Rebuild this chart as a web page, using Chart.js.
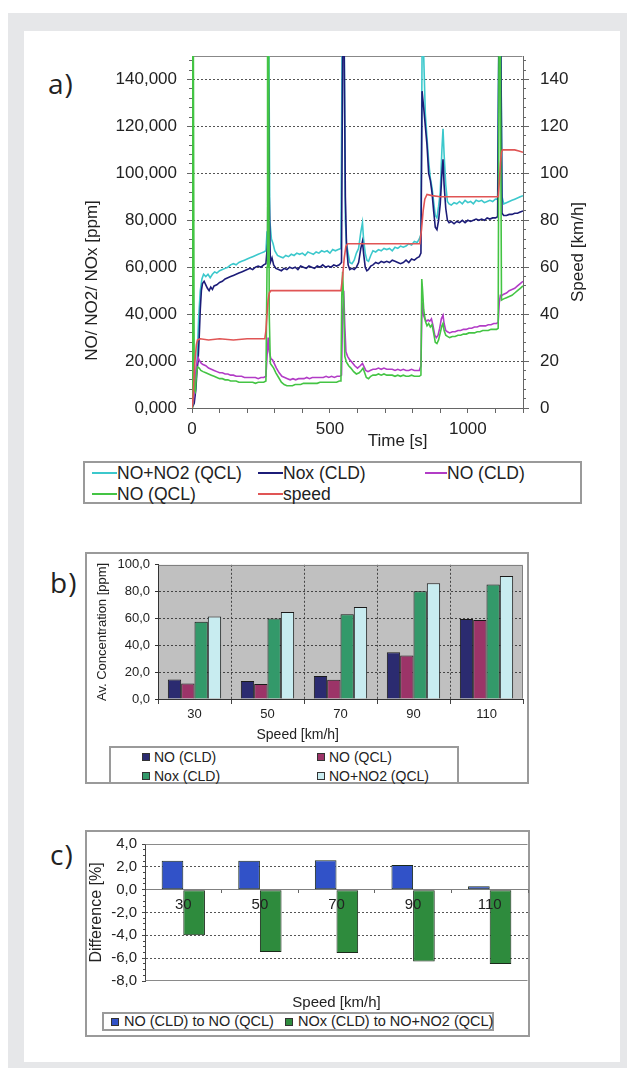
<!DOCTYPE html>
<html><head><meta charset="utf-8">
<script src="https://cdn.jsdelivr.net/npm/chart.js@4.4.1/dist/chart.umd.min.js"></script>
<style>
html,body{margin:0;padding:0;background:#fff;width:627px;height:1068px;overflow:hidden;font-family:'Liberation Sans',Arial,sans-serif;color:#222}
#frame{position:absolute;left:8px;top:13px;width:619px;height:1055px;background:#e6e7e9}
#panel{position:absolute;left:24px;top:31px;width:596px;height:1031px;background:#fff}
.plabel{position:absolute;font-family:'Open Sans',sans-serif;font-size:28px;line-height:28px;letter-spacing:1px;color:#222}
canvas{position:absolute}
.box{position:absolute;box-sizing:border-box;border:2px solid #9a9a9a}
.lgt{position:absolute;white-space:nowrap;color:#222}
.lgl{position:absolute;height:2px}
.lgs{position:absolute;box-sizing:border-box;border:1px solid #333}
</style></head><body>
<div id="frame"></div><div id="panel"></div>
<div class="plabel" style="left:48px;top:69px">a)</div>
<div class="plabel" style="left:50px;top:568px">b)</div>
<div class="plabel" style="left:50px;top:840px">c)</div>
<div class="box" style="left:83px;top:461px;width:499px;height:43px"></div>
<div class="box" style="left:85px;top:552px;width:444px;height:232px"></div>
<div class="box" style="left:109px;top:746px;width:350px;height:38px"></div>
<div class="box" style="left:85px;top:830px;width:445px;height:207px"></div>
<div class="box" style="left:102px;top:1012px;width:392px;height:19px"></div>
<canvas id="ca" width="581" height="422" style="left:24px;top:31px"></canvas>
<canvas id="cb" width="444" height="193" style="left:85px;top:552px"></canvas>
<canvas id="cc" width="444" height="182" style="left:85px;top:830px"></canvas>
<div id="legends"></div>
<script>
// ---------------- DATA: chart a (time [s], value) ----------------
const noNo2QCL = [[0,2],[5,5],[12,12],[18,20],[24,38],[30,50],[36,55],[42,57],[50,56],[58,57],[66,55.5],[74,57],[82,58],[90,57.5],[100,58.5],[110,59],[120,59.5],[130,60],[140,61],[150,61.5],[160,61],[170,62],[180,62.5],[190,63],[200,63.5],[210,64],[220,64.5],[230,65],[240,65.5],[250,66],[260,66.5],[268,67],[272,75],[275,150],[279,150],[282,80],[288,72],[294,70],[300,67],[310,65],[320,64.5],[330,64],[340,65],[350,64.5],[360,65.5],[370,65],[380,66],[390,65.5],[400,66],[410,65],[420,66.5],[430,66],[440,65.5],[450,66.5],[460,66],[470,67],[480,66.5],[490,67],[500,66],[510,67.5],[520,67],[530,67.5],[540,68],[544,150],[552,150],[556,80],[560,70],[566,66],[572,62],[580,61.5],[588,63],[596,66],[604,68],[612,75],[618,79],[622,72],[628,66],[634,63],[640,62.5],[648,65],[656,67],[666,66.5],[676,67.5],[686,67],[696,68],[706,67.5],[716,68],[726,67],[736,68.5],[746,68],[756,69],[766,68.5],[776,69],[786,70],[796,69.5],[806,71],[816,70.5],[824,72],[830,74],[834,150],[840,150],[846,125],[852,115],[858,105],[864,98],[870,94],[876,88],[882,82],[888,81],[894,86],[900,92],[906,110],[910,119],[914,108],[920,95],[926,88],[932,87],[940,86.5],[950,87.5],[960,87],[970,88],[980,87],[990,88.5],[1000,87.5],[1010,88],[1020,87],[1030,88.5],[1040,88],[1050,88.5],[1060,87.5],[1070,88],[1080,88.5],[1090,88],[1100,89],[1108,89],[1112,150],[1120,150],[1124,90],[1130,87],[1140,87.5],[1150,88],[1160,88.5],[1170,89],[1180,89.5],[1190,90],[1200,90.5]];
const noxCLD = [[0,0],[8,2],[14,8],[18,16],[22,20],[26,30],[30,42],[34,50],[38,53],[44,54],[50,52.5],[56,51],[62,50],[68,51.5],[74,50.5],[80,52],[90,52.5],[100,53.5],[110,54],[120,55],[130,55.5],[140,56],[150,56.5],[160,57],[170,57.5],[180,58],[190,58.5],[200,59],[210,59.5],[220,59],[230,60],[240,60.5],[250,60],[260,61],[268,61.5],[274,70],[277,140],[280,90],[284,62],[290,64],[296,61],[304,59.5],[314,59],[324,58.5],[334,59.5],[344,59],[354,60],[364,59.5],[374,60],[384,59],[394,60.5],[404,60],[414,59.5],[424,60.5],[434,60],[444,59.5],[454,60.5],[464,60],[474,61],[484,60],[494,60.5],[504,60],[514,61],[524,60.5],[534,61],[542,62],[546,150],[552,150],[556,90],[560,70],[566,61],[572,59],[580,59.5],[588,59],[596,60],[604,62],[612,68],[618,71],[622,66],[628,60],[634,58.5],[640,59],[648,60.5],[656,61],[666,62],[676,61.5],[686,62.5],[696,62],[706,62.5],[716,62],[726,63],[736,62.5],[746,62],[756,61.5],[766,62],[776,63],[786,62],[796,63.5],[806,63],[816,64],[824,64.5],[830,66],[834,135],[840,128],[846,120],[852,112],[858,100],[864,97],[870,92],[876,84],[882,77],[888,76],[894,80],[900,87],[906,100],[910,106],[914,95],[920,85],[926,80],[932,79],[940,79.5],[950,78.5],[960,79.5],[970,79],[980,80],[990,79],[1000,80],[1010,79.5],[1020,80],[1030,80.5],[1040,80],[1050,80.5],[1060,80],[1070,81],[1080,80.5],[1090,81],[1100,81],[1108,81.5],[1112,150],[1120,150],[1124,83],[1130,82],[1140,82],[1150,82.5],[1160,82.5],[1170,83],[1180,83],[1190,83.5],[1200,84]];
const noCLD = [[0,0],[5,3],[10,10],[16,18],[22,21.5],[28,20],[34,19],[40,18.5],[50,18],[60,17],[70,16.5],[80,16],[90,15.5],[100,15],[110,15],[120,14.5],[130,14.5],[140,14],[150,14],[160,13.5],[170,13.5],[180,13.5],[190,13],[200,13],[210,13],[220,13],[230,13],[240,12.5],[250,13],[260,13],[268,13.5],[272,22],[276,30],[280,24],[286,21],[292,20.5],[298,19],[306,17],[316,15],[326,13.5],[336,13],[346,12.5],[356,12],[366,12.5],[376,12],[386,12.5],[396,12.5],[406,12.5],[416,13],[426,12.5],[436,13],[446,13],[456,13],[466,13],[476,13],[486,13.5],[496,13],[506,13.5],[516,13],[526,13.5],[536,13.5],[542,14],[546,40],[550,50],[554,35],[558,24],[564,22],[572,20.5],[580,19.5],[590,18],[600,17],[610,18],[618,19],[624,17.5],[630,16],[638,15.5],[646,16],[656,16.5],[666,16.5],[676,17],[686,16.5],[696,17],[706,16.5],[716,16.5],[726,16.5],[736,16],[746,16.5],[756,16],[766,16.5],[776,16],[786,16],[796,16.5],[806,16],[816,16],[824,16],[830,18],[834,45],[838,40],[844,38],[850,37],[856,37.5],[862,37],[868,38],[874,35],[880,31],[886,30],[892,31],[898,34],[904,38],[910,39.5],[914,36],[920,33],[926,32.5],[934,32],[944,32.5],[954,32.5],[964,33],[974,33],[984,33.5],[994,33.5],[1004,34],[1014,34],[1024,34.5],[1034,34.5],[1044,35],[1054,35],[1064,35],[1074,35.5],[1084,35.5],[1094,36],[1104,36],[1110,36.5],[1114,45],[1118,48],[1124,48],[1130,48.5],[1140,49],[1150,50],[1160,50.5],[1170,51],[1180,52],[1190,53],[1200,54]];
const noQCL = [[0,0],[2,150],[5,150],[8,8],[12,7],[16,14],[20,17.5],[26,17],[32,16],[40,15.5],[50,15],[60,14.5],[70,14],[80,13.5],[90,13],[100,12.5],[110,12.5],[120,12],[130,12],[140,11.5],[150,11.5],[160,11.5],[170,11],[180,11],[190,11],[200,11],[210,11],[220,11],[230,10.5],[240,11],[250,11],[260,11],[268,11.5],[272,60],[274,150],[278,150],[280,40],[284,19],[290,18],[296,17],[304,15],[314,13],[324,11],[334,10],[344,9.5],[354,9.5],[364,9.5],[374,10],[384,10],[394,10],[404,10.5],[414,10.5],[424,10.5],[434,10.5],[444,10.5],[454,10.5],[464,11],[474,11],[484,11],[494,11],[504,11],[514,11],[524,11],[534,11.5],[540,11.5],[543,48],[546,58],[550,45],[554,22],[560,19.5],[568,18],[576,17],[586,15.5],[596,14.5],[606,15],[614,16],[620,17],[626,15],[632,13],[640,12.5],[648,13.5],[656,14],[666,14],[676,14.5],[686,14],[696,14.5],[706,14],[716,14],[726,14],[736,13.5],[746,14],[756,13.5],[766,14],[776,13.5],[786,13.5],[796,14],[806,13.5],[816,13.5],[824,13.5],[830,14],[833,55],[836,50],[840,42],[846,37],[852,35],[858,36],[864,34.5],[870,35.5],[876,32],[882,28],[888,27.5],[894,29],[900,32],[906,35],[910,36],[914,33],[920,31],[926,30.5],[934,30],[944,30.5],[954,30.5],[964,31],[974,31],[984,31.5],[994,31.5],[1004,32],[1014,32],[1024,32],[1034,32.5],[1044,32.5],[1054,33],[1064,33],[1074,33],[1084,33.5],[1094,33.5],[1104,33.5],[1110,34],[1113,150],[1118,150],[1122,46],[1130,46.5],[1140,47],[1150,47.5],[1160,48],[1170,49],[1180,50],[1190,51],[1200,52]];
const speedKmh = [[0,0],[4,5],[8,15],[12,22],[16,27],[20,29],[30,29.5],[60,29],[100,29.5],[150,29],[200,29.5],[250,29.5],[264,29.5],[268,33],[272,40],[276,46],[280,49],[286,50],[320,50],[360,50],[400,50],[450,50],[500,50],[540,50],[546,56],[552,64],[558,69],[564,70],[600,70],[650,70],[700,70],[750,70],[800,70],[826,70],[832,76],[838,84],[844,89],[852,91],[870,90.5],[900,90],[950,90],[1000,90],[1050,90],[1100,90],[1110,90],[1114,96],[1118,104],[1122,109],[1126,110],[1150,110],[1170,110],[1185,109.5],[1200,109]];

// ---------------- DATA: chart b ----------------
const speedsB = ['30','50','70','90','110'];
const avNoCLD   = [14.5, 13.5, 17.2, 34.9, 59.6];
const avNoQCL   = [11.6, 11.1, 14.3, 32.4, 58.9];
const avNoxCLD  = [57.6, 60.0, 63.2, 80.2, 85.3];
const avNoNo2QCL= [61.5, 64.9, 68.5, 86.2, 91.6];

// ---------------- DATA: chart c ----------------
const speedsC = ['30','50','70','90','110'];
const diffNO  = [2.53, 2.53, 2.58, 2.15, 0.3];
const diffNOx = [-4.0, -5.45, -5.55, -6.3, -6.5];

// ---------------- styling ----------------
const FONT = "'Liberation Sans', Arial, sans-serif";
Chart.defaults.font.family = FONT;
Chart.defaults.color = '#222';
const TRANSP = 'rgba(0,0,0,0)';

const colA = {cyan:'#3cc8cc', navy:'#1c1c78', mag:'#b23cc6', green:'#44c444', red:'#e05555'};
const colB = ['#2b2b70','#9c3468','#33996a','#c8ecf0'];
const colC = ['#3152c8','#2e8b3d'];

const framePlugin = {
  id: 'frame',
  beforeDraw(chart, args, o) {
    const a = chart.chartArea, ctx = chart.ctx;
    if (o.fill) { ctx.save(); ctx.fillStyle = o.fill; ctx.fillRect(a.left, a.top, a.right - a.left, a.bottom - a.top); ctx.restore(); }
  },
  beforeDatasetsDraw(chart, args, o) {
    const a = chart.chartArea, ctx = chart.ctx;
    ctx.save(); ctx.strokeStyle = o.color || '#888'; ctx.lineWidth = 1; ctx.beginPath();
    const s = o.sides || [];
    const L = Math.round(a.left)+0.5, R = Math.round(a.right)-0.5, T = Math.round(a.top)+0.5, B = Math.round(a.bottom)-0.5;
    if (s.includes('top')) { ctx.moveTo(L, T); ctx.lineTo(R, T); }
    if (s.includes('right')) { ctx.moveTo(R, T); ctx.lineTo(R, B); }
    if (s.includes('bottom')) { ctx.moveTo(L, B); ctx.lineTo(R, B); }
    ctx.stroke(); ctx.restore();
  }
};
const rotTitle = {
  id: 'rotTitle',
  afterDraw(chart, args, o) {
    if (!o.text) return;
    const ctx = chart.ctx, s = chart.scales[o.axis], a = chart.chartArea;
    ctx.save();
    ctx.font = o.size + 'px ' + FONT; ctx.fillStyle = '#222';
    ctx.translate(s.right - o.offset, (a.top + a.bottom) / 2 + o.shift);
    ctx.rotate(-Math.PI / 2);
    ctx.textAlign = 'center'; ctx.textBaseline = 'middle';
    ctx.fillText(o.text, 0, 0);
    ctx.restore();
  }
};
const toXY = arr => arr.map(p => ({x: p[0], y: p[1]}));
const comma = (v, d) => Number(v).toFixed(d).replace('.', ',');

// ---------------- chart a ----------------
const seriesA = [
  {label:'NO+NO2 (QCL)', data:noNo2QCL, color:colA.cyan, axis:'y', order:4},
  {label:'Nox (CLD)', data:noxCLD, color:colA.navy, axis:'y', order:3},
  {label:'NO (CLD)', data:noCLD, color:colA.mag, axis:'y', order:2},
  {label:'NO (QCL)', data:noQCL, color:colA.green, axis:'y', order:1},
  {label:'speed', data:speedKmh, color:colA.red, axis:'y2', order:0}
];
new Chart(document.getElementById('ca'), {
  type: 'line',
  data: { datasets: seriesA.map(s => ({label:s.label, data:toXY(s.data), borderColor:s.color, backgroundColor:s.color, borderWidth:1.6, pointRadius:0, tension:0, fill:false, xAxisID:'x', yAxisID:s.axis, order:s.order})) },
  options: {
    responsive:false, animation:false,
    layout:{padding:{top:25,left:0,right:0,bottom:0}},
    plugins:{legend:{display:false}, tooltip:{enabled:false},
      frame:{sides:['top'], color:'#888'},
      rotTitle:{text:'Speed [km/h]', axis:'y2', offset:27, shift:20, size:17}},
    scales:{
      x:{type:'linear', min:0, max:1200,
        ticks:{stepSize:100, autoSkip:false, maxRotation:0, padding:6, font:{size:17}, callback:v => (v % 500 === 0 ? String(v) : '')},
        grid:{drawOnChartArea:false, tickLength:5, color:'#666'}, border:{color:'#666'},
        title:{display:true, text:' '.repeat(17) + 'Time [s]', font:{size:17}, padding:{top:0,bottom:1}},
        afterFit:s => { s.height = 45; }},
      y:{position:'left', weight:1, min:0, max:150,
        ticks:{stepSize:20, includeBounds:false, padding:10, font:{size:17}, callback:v => comma(v,3)},
        grid:{color:c => (c.tick && c.tick.value > 0 ? '#555' : TRANSP), tickColor:'#666', tickLength:5},
        border:{color:'#666', dash:[2,2]},
        title:{display:true, text:' '.repeat(10) + 'NO/ NO2/ NOx [ppm]', align:'start', font:{size:17}, padding:{top:58,bottom:0}},
        afterFit:s => { s.width = 168; }},
      yMin:{position:'left', weight:0, min:0, max:150,
        ticks:{display:false, stepSize:4, includeBounds:false},
        grid:{drawOnChartArea:false, tickLength:3, color:'#666'}, border:{display:false},
        afterFit:s => { s.width = 0; }},
      y2:{position:'right', weight:1, min:0, max:150,
        ticks:{stepSize:20, includeBounds:false, padding:11, font:{size:17}},
        grid:{drawOnChartArea:false, tickColor:'#666', color:'#666', tickLength:6},
        border:{color:'#666'},
        afterFit:s => { s.width = 82; }},
      y2Min:{position:'right', weight:0, min:0, max:150,
        ticks:{display:false, stepSize:4, includeBounds:false},
        grid:{drawOnChartArea:false, tickLength:3, color:'#666'}, border:{display:false},
        afterFit:s => { s.width = 0; }}
    }
  },
  plugins:[framePlugin, rotTitle]
});

// ---------------- chart b ----------------
const seriesB = [
  {label:'NO (CLD)', data:avNoCLD},
  {label:'NO (QCL)', data:avNoQCL},
  {label:'Nox (CLD)', data:avNoxCLD},
  {label:'NO+NO2 (QCL)', data:avNoNo2QCL}
];
new Chart(document.getElementById('cb'), {
  type:'bar',
  data:{labels:speedsB, datasets:seriesB.map((s,i) => ({label:s.label, data:s.data, backgroundColor:colB[i], borderColor:'#1a1a1a', borderWidth:1, xAxisID:'x', yAxisID:'y'}))},
  options:{
    responsive:false, animation:false,
    layout:{padding:{top:10,right:6,left:0,bottom:0}},
    datasets:{bar:{categoryPercentage:0.73, barPercentage:1}},
    plugins:{legend:{display:false}, tooltip:{enabled:false}, frame:{fill:'#c0c0c0', sides:['top','right'], color:'#808080'}},
    scales:{
      x:{grid:{offset:true, color:c => (c.index > 0 && c.index < 5 ? '#444' : TRANSP), tickColor:'#444', tickLength:5},
        border:{color:'#333', dash:[2,2]},
        ticks:{font:{size:13}, padding:3},
        title:{display:true, text:'Speed [km/h]' + ' '.repeat(22), font:{size:14}, padding:{top:0,bottom:1.6}},
        afterFit:s => { s.height = 46; }},
      y:{min:0, max:100,
        ticks:{stepSize:20, font:{size:13}, padding:5, callback:v => comma(v,1)},
        grid:{color:c => (c.tick && c.tick.value > 0 && c.tick.value < 100 ? '#444' : TRANSP), tickColor:'#333', tickLength:3},
        border:{color:'#333', dash:[2,2]},
        title:{display:true, text:'Av. Concentration [ppm]', font:{size:13}, padding:{top:10,bottom:0}},
        afterFit:s => { s.width = 73; }}
    }
  },
  plugins:[framePlugin]
});

// ---------------- chart c ----------------
const seriesC = [
  {label:'NO (CLD) to NO (QCL)', data:diffNO},
  {label:'NOx (CLD) to NO+NO2 (QCL)', data:diffNOx}
];
new Chart(document.getElementById('cc'), {
  type:'bar',
  data:{labels:speedsC, datasets:seriesC.map((s,i) => ({label:s.label, data:s.data, backgroundColor:colC[i], borderColor:'#1a2a1a', borderWidth:1, borderSkipped:false, xAxisID:'x', yAxisID:'y'}))},
  options:{
    responsive:false, animation:false,
    layout:{padding:{top:11,right:1,left:0,bottom:0}},
    datasets:{bar:{categoryPercentage:0.565, barPercentage:1}},
    plugins:{legend:{display:false}, tooltip:{enabled:false}, frame:{sides:['top','bottom'], color:'#8a8a8a'}},
    scales:{
      x:{position:{y:0}, grid:{drawOnChartArea:false, tickLength:3, color:'#666'}, border:{color:'#808080'},
        ticks:{font:{size:15}, padding:3, z:1}},
      x2:{type:'category', labels:speedsC, position:'bottom', grid:{display:false}, border:{display:false},
        ticks:{display:false},
        title:{display:true, text:'Speed [km/h]', font:{size:15}, padding:{top:0,bottom:0}},
        afterFit:s => { s.height = 31; }},
      y:{position:'left', weight:1, min:-8, max:4,
        ticks:{stepSize:2, font:{size:15}, padding:5, callback:v => comma(v,1)},
        grid:{color:c => (c.tick && c.tick.value !== 0 && c.tick.value > -8 && c.tick.value < 4 ? '#555' : TRANSP), tickColor:'#444', tickLength:3},
        border:{color:'#444', dash:[2,2]},
        title:{display:true, text:'Difference [%]', font:{size:16}, padding:{top:2,bottom:0}},
        afterFit:s => { s.width = 60; }},
      yMin:{position:'left', weight:0, min:-8, max:4,
        ticks:{display:false, stepSize:0.5},
        grid:{drawOnChartArea:false, tickLength:2, color:'#444'}, border:{display:false},
        afterFit:s => { s.width = 0; }}
    }
  },
  plugins:[framePlugin]
});

// ---------------- HTML legends ----------------
const lg = document.getElementById('legends');
function addText(x, yc, text, size) {
  const d = document.createElement('div'); d.className = 'lgt';
  d.style.left = x + 'px'; d.style.top = (yc - size * 0.6) + 'px';
  d.style.fontSize = size + 'px'; d.style.lineHeight = (size * 1.2) + 'px';
  d.textContent = text; lg.appendChild(d);
}
function addLine(x, yc, w, color) {
  const d = document.createElement('div'); d.className = 'lgl';
  d.style.left = x + 'px'; d.style.top = (yc - 1) + 'px'; d.style.width = w + 'px'; d.style.background = color;
  lg.appendChild(d);
}
function addSquare(x, yc, s, color) {
  const d = document.createElement('div'); d.className = 'lgs';
  d.style.left = x + 'px'; d.style.top = (yc - s / 2) + 'px'; d.style.width = s + 'px'; d.style.height = s + 'px'; d.style.background = color;
  lg.appendChild(d);
}
// legend a
const posA = [[92,473,25],[258,473,25],[425,473,22],[92,494,25],[258,494,25]];
seriesA.forEach((s,i) => { const p = posA[i]; addLine(p[0], p[1], p[2], s.color); addText(p[0] + p[2], p[1], s.label, 17.5); });
// legend b
const posB = [[142,757],[317,757],[142,776],[317,776]];
seriesB.forEach((s,i) => { const p = posB[i]; addSquare(p[0], p[1], 8, colB[i]); addText(p[0] + 12, p[1], s.label, 14); });
// legend c
const posC = [[111,1021.5],[285,1021.5]];
seriesC.forEach((s,i) => { const p = posC[i]; addSquare(p[0], p[1], 8, colC[i]); addText(p[0] + 13, p[1], s.label, 14.5); });
</script>
</body></html>
